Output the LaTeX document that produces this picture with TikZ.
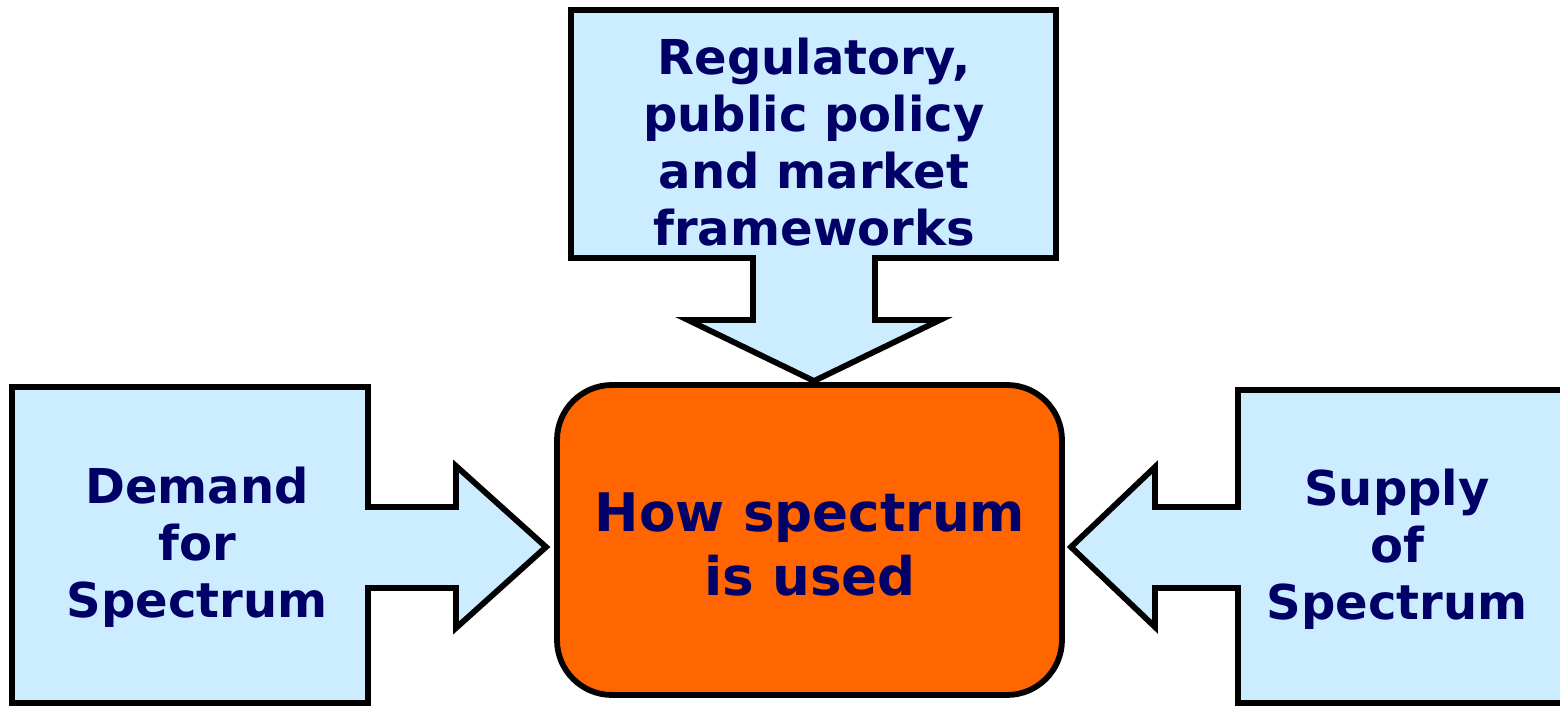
\documentclass[tikz,border=0pt]{standalone}
\usepackage{fontspec}
\setmainfont{DejaVu Sans}
\definecolor{boxblue}{HTML}{CCECFF}
\definecolor{hot}{HTML}{FF6600}
\definecolor{navy}{HTML}{000066}
\tikzset{
  callout/.style={draw=black, fill=boxblue, line width=0.058cm, line join=miter},
  lbl/.style={text=navy, font=\bfseries\fontsize{13.66}{16.2}\selectfont, align=center, inner sep=0pt},
  core/.style={draw=black, fill=hot, line width=0.058cm, rounded corners=0.55cm},
  corelbl/.style={text=navy, font=\bfseries\fontsize{15.1}{18.2}\selectfont, align=center, inner sep=0pt}
}
\begin{document}
\begin{tikzpicture}[x=0.01cm, y=-0.01cm]
\useasboundingbox (0,0) rectangle (1560,707);
\clip (0,0) rectangle (1560,707);
% top callout
\draw[callout] (571,10) -- (1056,10) -- (1056,258) -- (875,258) -- (875,320) -- (940,320)
  -- (814,381) -- (688,320) -- (753,320) -- (753,258) -- (571,258) -- cycle;
% left callout
\draw[callout] (12,387) -- (368,387) -- (368,507) -- (456,507) -- (456,466)
  -- (546,547) -- (456,628) -- (456,588) -- (368,588) -- (368,703) -- (12,703) -- cycle;
% right callout
\draw[callout] (1580,390) -- (1238,390) -- (1238,507) -- (1155,507) -- (1155,467)
  -- (1071,547) -- (1155,627) -- (1155,588) -- (1238,588) -- (1238,703) -- (1580,703) -- cycle;
% center
\draw[core] (557,385) rectangle (1062,695);
\node[corelbl] (core) at (810,545) {How spectrum\\is used};
\node[lbl] (top) at (814,142) {Regulatory,\\public policy\\and market\\frameworks};
\node[lbl] (demand) at (197,547) {Demand\\for\\Spectrum};
\node[lbl] (supply) at (1397,549) {Supply\\of\\Spectrum};
\end{tikzpicture}
\end{document}
